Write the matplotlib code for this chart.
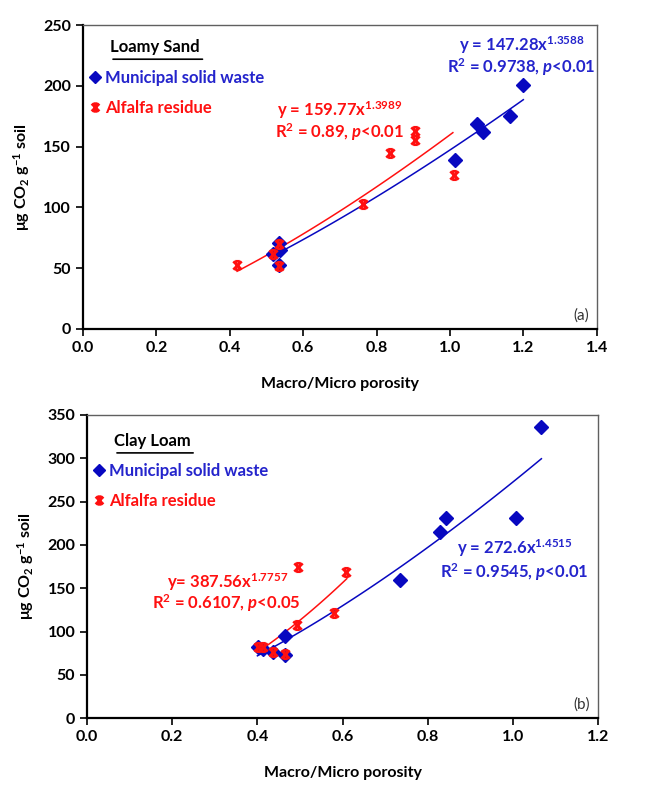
import numpy as np
import matplotlib
matplotlib.use('Agg')
import matplotlib.pyplot as plt
from matplotlib.path import Path

FONT = 'Lato'
plt.rcParams['font.family'] = [FONT, 'DejaVu Sans']
plt.rcParams['font.weight'] = 'bold'
plt.rcParams['axes.labelweight'] = 'bold'
plt.rcParams['mathtext.fontset'] = 'custom'
plt.rcParams['mathtext.rm'] = f'{FONT}:bold'
plt.rcParams['mathtext.bf'] = f'{FONT}:bold'
plt.rcParams['mathtext.it'] = f'{FONT}:italic:bold'

#data
#(a) loamy sand
ls_msw_x = [1.20, 1.163, 1.073, 1.089, 1.015, 0.534, 0.534, 0.537, 0.519]
ls_msw_y = [201, 175.5, 169, 162.5, 139, 70.5, 52.5, 65, 61.5]
ls_alf_x = [0.419, 0.519, 0.534, 0.534, 0.764, 0.837, 0.906, 0.906, 1.011]
ls_alf_y = [52.5, 61.5, 70, 52, 102.5, 145, 163, 155.5, 126.5]
ls_fit_msw = (147.28, 1.3588, 0.53, 1.20)
ls_fit_alf = (159.77, 1.3989, 0.42, 1.008)
#(b) clay loam
cl_msw_x = [1.067, 1.007, 0.842, 0.828, 0.736, 0.464, 0.466, 0.437, 0.402, 0.412]
cl_msw_y = [336, 231, 231, 215, 160, 95, 73.5, 76, 82, 80]
cl_alf_x = [0.402, 0.412, 0.437, 0.466, 0.493, 0.496, 0.579, 0.609]
cl_alf_y = [82.5, 82, 76, 74, 108, 175, 122, 169]
cl_fit_msw = (272.6, 1.4515, 0.40, 1.067)
cl_fit_alf = (387.56, 1.7757, 0.40, 0.61)

blue = '#0808c0'
blue_txt = '#2424cc'
red = '#ff1010'

# excel style "x" marker with caps
xmark = Path([(-1, 1), (1, -1), (-1, -1), (1, 1), (-0.55, 1), (0.55, 1), (-0.55, -1), (0.55, -1)],
             [Path.MOVETO, Path.LINETO, Path.MOVETO, Path.LINETO,
              Path.MOVETO, Path.LINETO, Path.MOVETO, Path.LINETO])


def fitline(ax, fit, color):
    a, b, x0, x1 = fit
    xx = np.linspace(x0, x1, 100)
    ax.plot(xx, a*xx**b, color=color, lw=1.1, zorder=2)


def panel(ax, msw, alf, fits, xlim, ylim, xticks, yticks, title, tag, eqs):
    ax.plot(msw[0], msw[1], ls='none', marker='D', ms=7, color=blue, mec=blue, zorder=3)
    ax.plot(alf[0], alf[1], ls='none', marker=xmark, ms=6, mfc='none', mec=red, mew=2.0, zorder=4)
    fitline(ax, fits[0], blue)
    fitline(ax, fits[1], red)
    ax.set_xlim(*xlim)
    ax.set_ylim(*ylim)
    ax.set_xticks(xticks)
    ax.set_yticks(yticks)
    ax.set_xticklabels([f'{v:.1f}' for v in xticks])
    ax.set_yticklabels([f'{v:d}' for v in yticks])
    ax.tick_params(direction='out', length=5, width=1.2, labelsize=11.5, color='k')
    for s in ['left', 'bottom']:
        ax.spines[s].set_linewidth(1.6)
        ax.spines[s].set_color('k')
    for s in ['top', 'right']:
        ax.spines[s].set_linewidth(1.0)
        ax.spines[s].set_color('#606060')
    ax.set_xlabel('Macro/Micro porosity', fontsize=11.5, labelpad=16, fontweight='bold')
    ax.set_ylabel(r'μg CO$_2$ g$^{-1}$ soil', fontsize=11.5, labelpad=8, fontweight='bold')
    ax.text(title[1], title[2], title[0], transform=ax.transAxes, fontsize=12,
            ha='left', va='center', color='k')
    # underline
    ax.annotate('', xy=(title[1], title[2]-0.04), xytext=(title[1]+title[3], title[2]-0.04),
                xycoords='axes fraction', arrowprops=dict(arrowstyle='-', lw=1.2, color='k'))
    h1, = ax.plot([], [], ls='none', marker='D', ms=6, color=blue)
    h2, = ax.plot([], [], ls='none', marker=xmark, ms=5.5, mfc='none', mec=red, mew=2)
    ax.legend([h1, h2], ['Municipal solid waste', 'Alfalfa residue'], loc='upper left',
              bbox_to_anchor=title[4], frameon=False, handlelength=0.6,
              handletextpad=0.3, labelspacing=0.85, borderaxespad=0,
              labelcolor=[blue_txt, red], prop={'weight': 'bold', 'size': 12})
    for (x, y, s, c) in eqs:
        ax.text(x, y, s, color=c, fontsize=12, ha='center', va='center')
    ax.text(0.985, 0.045, tag, transform=ax.transAxes, ha='right', va='center',
            fontsize=11, fontweight='normal', color='#333333')


fig = plt.figure(figsize=(6.5, 7.87), dpi=100)
ax1 = fig.add_axes([0.1277, 0.582, 0.918-0.1277, 0.968-0.582])
ax2 = fig.add_axes([0.134, 0.0873, 0.92-0.134, 0.4727-0.0873])

panel(ax1, (ls_msw_x, ls_msw_y), (ls_alf_x, ls_alf_y), (ls_fit_msw, ls_fit_alf),
      (0, 1.4), (0, 250), [0, 0.2, 0.4, 0.6, 0.8, 1.0, 1.2, 1.4], list(range(0, 251, 50)),
      ('Loamy Sand', 0.053, 0.928, 0.185, (0.0, 0.875)), '(a)',
      [(1.195, 233.5, r'y = 147.28x$^{1.3588}$', blue_txt),
       (1.193, 215.5, r'R$^2$ = 0.9738, $p$<0.01', blue_txt),
       (0.70, 180, r'y = 159.77x$^{1.3989}$', red),
       (0.70, 162, r'R$^2$ = 0.89, $p$<0.01', red)])

panel(ax2, (cl_msw_x, cl_msw_y), (cl_alf_x, cl_alf_y), (cl_fit_msw, cl_fit_alf),
      (0, 1.2), (0, 350), [0, 0.2, 0.4, 0.6, 0.8, 1.0, 1.2], list(range(0, 351, 50)),
      ('Clay Loam', 0.053, 0.915, 0.16, (0.0, 0.865)), '(b)',
      [(1.004, 196, r'y = 272.6x$^{1.4515}$', blue_txt),
       (1.004, 169, r'R$^2$ = 0.9545, $p$<0.01', blue_txt),
       (0.331, 157.5, r'y= 387.56x$^{1.7757}$', red),
       (0.327, 133, r'R$^2$ = 0.6107, $p$<0.05', red)])

fig.savefig('out.png', dpi=100)
